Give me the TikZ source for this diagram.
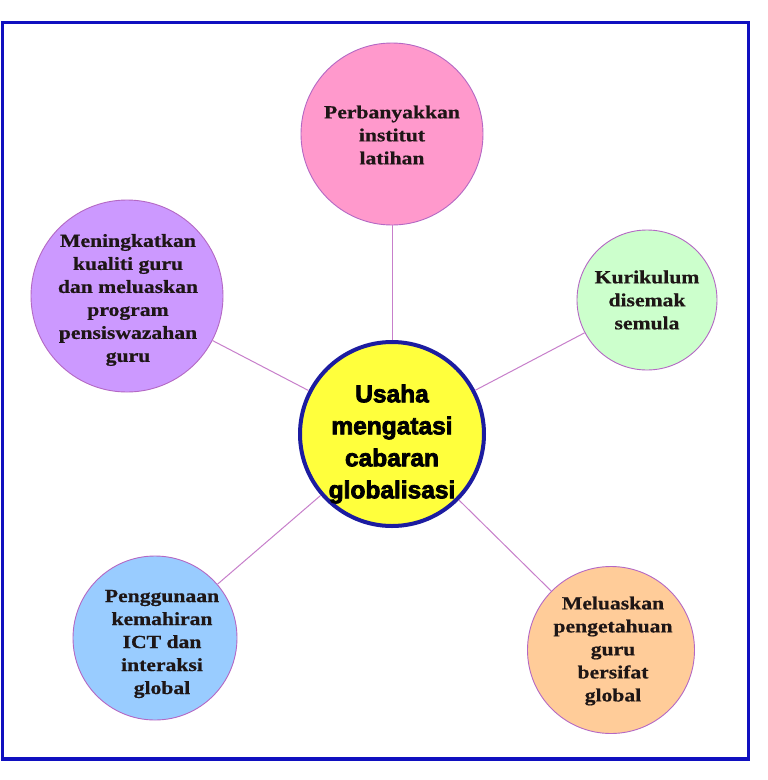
\documentclass[tikz,border=0pt]{standalone}
\usepackage{fontspec}
\setmainfont{Liberation Serif}
\newfontfamily\circfont[FakeStretch=1.17,FakeBold=0.6]{Liberation Serif}
\newfontfamily\hubfont[FakeBold=3]{Liberation Sans}
\definecolor{framecol}{HTML}{1010C0}
\definecolor{hubedge}{HTML}{1C1CA0}
\definecolor{hubfill}{HTML}{FFFF3C}
\definecolor{linkcol}{HTML}{C77FCB}
\definecolor{edgecol}{HTML}{B468C4}
\definecolor{pinkfill}{HTML}{FF99CC}
\definecolor{violetfill}{HTML}{CC99FF}
\definecolor{mintfill}{HTML}{CCFFCC}
\definecolor{skyfill}{HTML}{99CCFF}
\definecolor{peachfill}{HTML}{FFCC99}
\definecolor{inkcol}{HTML}{1E1616}
\begin{document}
\begin{tikzpicture}[x=1pt,y=-1pt,
  bubble/.style={circle, draw=edgecol, line width=0.9pt, inner sep=0pt},
  hub/.style={circle, draw=hubedge, fill=hubfill, line width=4pt, inner sep=0pt, minimum size=184pt},
  link/.style={draw=linkcol, line width=1pt},
  bubbletext/.style={align=center, inner sep=0pt, text=inkcol,
     font=\circfont\bfseries\fontsize{18.5}{23}\selectfont},
  hubtext/.style={align=center, inner sep=0pt, text=black,
     font=\hubfont\bfseries\fontsize{24.5}{32}\selectfont}]
\useasboundingbox (0,0) rectangle (768,780);
\fill[white] (0,0) rectangle (768,780);
\draw[framecol, line width=3.5pt] (2.5,22.5) rectangle (748.5,759);

\node[hub] (hub) at (392,434) {};
\node[bubble, fill=pinkfill, minimum size=182pt] (pink) at (392,134) {};
\node[bubble, fill=violetfill, minimum size=192pt] (violet) at (127,296) {};
\node[bubble, fill=mintfill, minimum size=140pt] (mint) at (647,300) {};
\node[bubble, fill=skyfill, minimum size=164pt] (sky) at (155,638) {};
\node[bubble, fill=peachfill, minimum size=167pt] (peach) at (611,650) {};

\draw[link] (hub) -- (pink);
\draw[link] (hub) -- (violet);
\draw[link] (hub) -- (mint);
\draw[link] (hub) -- (sky);
\draw[link] (hub) -- (peach);

\node[hubtext] (hubt) at (392,444) {Usaha\\mengatasi\\cabaran\\globalisasi};
\node[bubbletext] (pinkt) at (392,135) {Perbanyakkan\\institut\\latihan};
\node[bubbletext] (violett) at (128,300) {Meningkatkan\\kualiti guru\\dan meluaskan\\program\\pensiswazahan\\guru};
\node[bubbletext] (mintt) at (647,300) {Kurikulum\\disemak\\semula};
\node[bubbletext] (skyt) at (162,644) {Penggunaan\\kemahiran\\ICT dan\\interaksi\\global};
\node[bubbletext] (peacht) at (613,651) {Meluaskan\\pengetahuan\\guru\\bersifat\\global};
\end{tikzpicture}
\end{document}
